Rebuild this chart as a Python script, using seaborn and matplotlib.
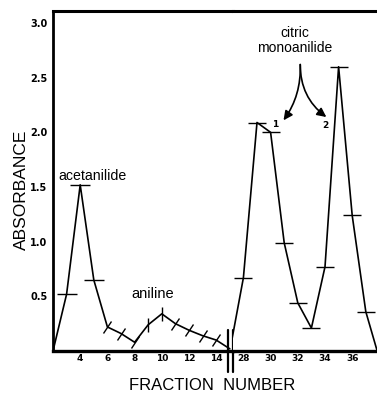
import matplotlib
matplotlib.use("Agg")
import matplotlib.pyplot as plt
import seaborn as sns
import pandas as pd
from matplotlib.markers import MarkerStyle
from matplotlib.transforms import Affine2D

# ---- data ----
frac_left = [2, 3, 4, 5, 6, 7, 8, 9, 10, 11, 12, 13, 14, 15]
abs_left = [0.0, 0.52, 1.52, 0.65, 0.22, 0.16, 0.08, 0.24, 0.34, 0.25, 0.19, 0.14, 0.10, 0.02]
frac_right = [27, 28, 29, 30, 31, 32, 33, 34, 35, 36, 37, 38]
abs_right = [0.0, 0.67, 2.09, 2.00, 0.99, 0.44, 0.21, 0.77, 2.60, 1.24, 0.36, -0.07]

bar_left = [3, 4, 5]            # fractions with horizontal bars (left part)
slant_left = [6, 7, 8, 11, 12, 13, 14]
vert_left = [9, 10]
bar_right = [28, 29, 30, 31, 32, 33, 34, 35, 36, 37]

yticks = [0.5, 1.0, 1.5, 2.0, 2.5, 3.0]
ytick_labels = ["0.5", "1.0", "1.5", "2.0", "2.5", "3.0"]
xticks_left = [4, 6, 8, 10, 12, 14]
xticks_right = [28, 30, 32, 34, 36]

sns.set_theme(style="white")
plt.rcParams["font.family"] = ["Liberation Sans", "DejaVu Sans"]
plt.rcParams["text.color"] = "black"
plt.rcParams["xtick.color"] = "black"
plt.rcParams["ytick.color"] = "black"
plt.rcParams["axes.labelcolor"] = "black"

W, H = 377, 394
fig = plt.figure(figsize=(W / 100, H / 100), dpi=100)

px_per_unit = 13.6
left_px = 53
bottom_px = 43
top_px = 11
xl1 = (2, 15.2)
xl2 = (27.2, 37.85)
w1 = (xl1[1] - xl1[0]) * px_per_unit
w2 = (xl2[1] - xl2[0]) * px_per_unit
h = H - bottom_px - top_px

ax1 = fig.add_axes([left_px / W, bottom_px / H, w1 / W, h / H])
ax2 = fig.add_axes([(left_px + w1) / W, bottom_px / H, w2 / W, h / H])

df_l = pd.DataFrame({"frac": frac_left, "abs": abs_left})
df_r = pd.DataFrame({"frac": frac_right, "abs": abs_right})

lw = 1.2
sns.lineplot(data=df_l, x="frac", y="abs", ax=ax1, color="black", lw=lw,
             estimator=None, sort=False)
sns.lineplot(data=df_r, x="frac", y="abs", ax=ax2, color="black", lw=lw,
             estimator=None, sort=False)

def pick(fr, ab, sel):
    xs = [f for f in fr if f in sel]
    ys = [a for f, a in zip(fr, ab) if f in sel]
    return xs, ys

xs, ys = pick(frac_left, abs_left, bar_left)
ax1.plot(xs, ys, ls="none", marker="_", ms=14, mew=1.0, color="black")
xs, ys = pick(frac_left, abs_left, slant_left)
slant = MarkerStyle("|", transform=Affine2D().rotate_deg(-35))
ax1.plot(xs, ys, ls="none", marker=slant, ms=10, mew=1.0, color="black")
xs, ys = pick(frac_left, abs_left, vert_left)
ax1.plot(xs, ys, ls="none", marker="|", ms=10, mew=1.0, color="black")
xs, ys = pick(frac_right, abs_right, bar_right)
ax2.plot(xs, ys, ls="none", marker="_", ms=13, mew=1.0, color="black")

for ax, xl in ((ax1, xl1), (ax2, xl2)):
    ax.set_xlim(*xl)
    ax.set_ylim(0, 3.11)
    ax.set_xlabel("")
    ax.set_ylabel("")
    ax.spines["top"].set_linewidth(2.2)
    ax.spines["bottom"].set_linewidth(2.4)
    ax.spines["right"].set_visible(False)
    for s in ("top", "bottom"):
        ax.spines[s].set_color("black")
    ax.tick_params(axis="x", direction="in", length=5, width=2.2, color="black",
                   pad=2.5, labelsize=6.5, labelcolor="black")
    ax.set_facecolor("white")

ax1.spines["left"].set_linewidth(2.0)
ax1.spines["left"].set_color("black")
ax2.spines["left"].set_visible(False)

ax1.set_yticks(yticks)
ax1.set_yticklabels(ytick_labels, fontsize=7, fontweight="bold", family="DejaVu Sans")
ax1.tick_params(axis="y", direction="in", length=5, width=2.2, color="black", pad=4,
                labelcolor="black")
ax2.set_yticks([])

ax1.set_xticks(xticks_left)
ax1.set_xticklabels([str(v) for v in xticks_left], fontweight="bold", family="DejaVu Sans")
ax2.set_xticks(xticks_right)
ax2.set_xticklabels([str(v) for v in xticks_right], fontweight="bold", family="DejaVu Sans")

# break marks
for xf in (1.0 - 5 / w1, 1.0):
    ax1.plot([xf, xf], [-0.062, 0.062], transform=ax1.transAxes, color="black",
             lw=1.6, clip_on=False)

lab_font = ["Liberation Sans", "DejaVu Sans"]
ax1.text(4.88, 1.60, "acetanilide", ha="center", va="center", fontsize=10.2, family=lab_font)
ax1.text(9.3, 0.52, "aniline", ha="center", va="center", fontsize=10.5, family=lab_font)
ax2.text(31.8, 2.84, "citric\nmonoanilide", ha="center", va="center", fontsize=10,
         family=lab_font, linespacing=1.05)
ax2.text(30.35, 2.07, "1", ha="center", va="center", fontsize=6.5, fontweight="bold",
         family="DejaVu Sans")
ax2.text(34.0, 2.06, "2", ha="center", va="center", fontsize=6.5, fontweight="bold",
         family="DejaVu Sans")

arrow_kw = dict(arrowstyle="-|>,head_length=0.45,head_width=0.22", color="black", lw=1.2,
                shrinkA=0, shrinkB=0)
ax2.annotate("", xy=(30.95, 2.11), xytext=(32.18, 2.62),
             arrowprops=dict(connectionstyle="arc3,rad=-0.17", **arrow_kw))
ax2.annotate("", xy=(34.1, 2.14), xytext=(32.18, 2.62),
             arrowprops=dict(connectionstyle="arc3,rad=0.25", **arrow_kw))

fig.text(21 / W, 1 - 190 / H, "ABSORBANCE", rotation=90, ha="center", va="center",
         fontsize=12.5)
fig.text(212 / W, 1 - 386 / H, "FRACTION  NUMBER", ha="center", va="center",
         fontsize=12)

fig.savefig("out.png", dpi=100, facecolor="white")
